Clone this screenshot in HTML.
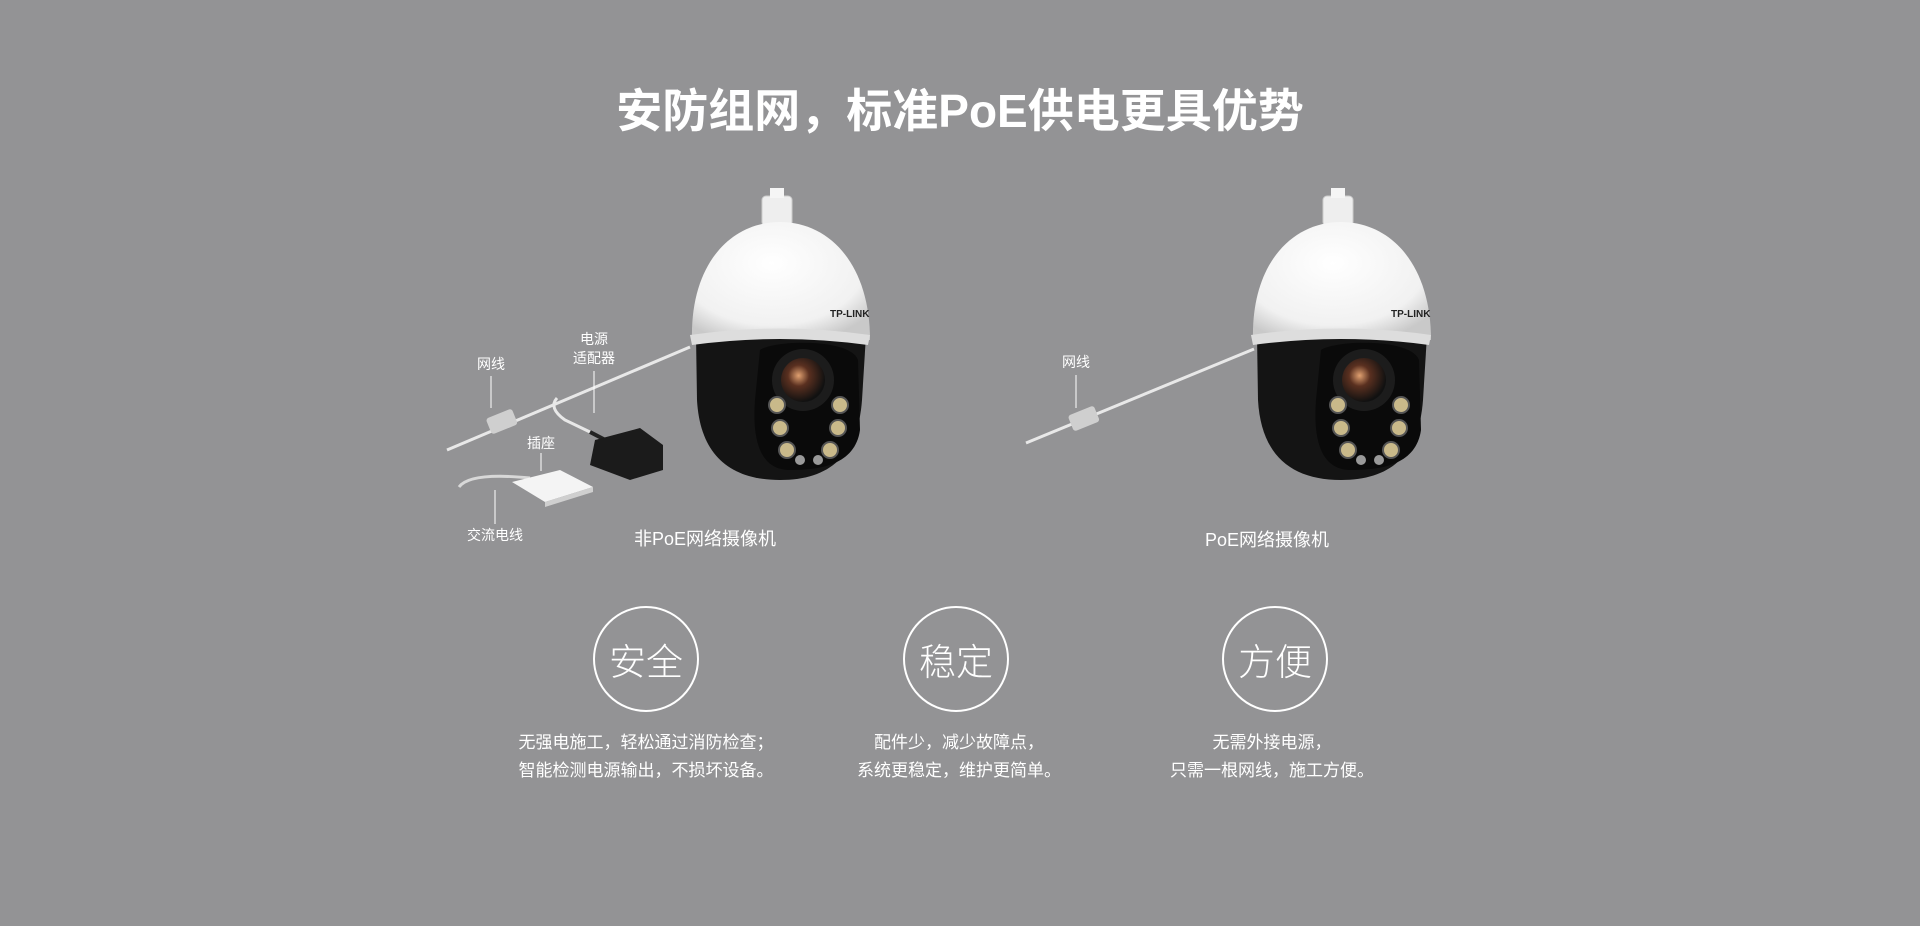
<!DOCTYPE html>
<html><head><meta charset="utf-8"><style>
html,body{margin:0;padding:0;}
body{width:1920px;height:926px;background:#939395;position:relative;overflow:hidden;font-family:"Liberation Sans","Noto Sans CJK SC",sans-serif;color:#fff;}
.t{position:absolute;white-space:nowrap;transform:translate(-50%,-50%);}
.c{position:absolute;width:106px;height:106px;border:2px solid #fff;border-radius:50%;box-sizing:border-box;transform:translate(-50%,-50%);display:flex;align-items:center;justify-content:center;font-size:37px;font-weight:300;}
</style></head><body>
<svg width="1920" height="926" style="position:absolute;left:0;top:0">
<defs>
<radialGradient id="dome" cx="0.45" cy="0.35" r="0.7"><stop offset="0" stop-color="#ffffff"/><stop offset="0.75" stop-color="#f1f1f1"/><stop offset="1" stop-color="#c9c9c9"/></radialGradient>
<radialGradient id="lens" cx="0.4" cy="0.4" r="0.6"><stop offset="0" stop-color="#e0a070"/><stop offset="0.4" stop-color="#5a3020"/><stop offset="1" stop-color="#111"/></radialGradient>
<g id="cam">
<rect x="762" y="196" width="30" height="30" rx="4" fill="#eee" stroke="#ccc"/>
<rect x="770" y="188" width="14" height="10" fill="#f5f5f5"/>
<path d="M692,340 C690,265 730,222 780,222 C830,222 870,265 870,340 Z" fill="url(#dome)"/>
<path d="M696,335 L866,335 L862,400 C858,455 830,480 780,480 C730,480 700,455 697,400 Z" fill="#141414"/>
<path d="M760,350 C775,340 850,338 858,360 L860,430 C855,465 820,470 790,470 C760,470 752,440 755,400 Z" fill="#0a0a0a"/>
<path d="M690,335 Q780,322 870,335 L868,345 Q780,333 692,345 Z" fill="#ddd"/>
<circle cx="803" cy="380" r="31" fill="#1c1c1c"/>
<circle cx="803" cy="380" r="22" fill="url(#lens)"/>
<g fill="#c9b98a" stroke="#555" stroke-width="2">
<circle cx="777" cy="405" r="8"/><circle cx="780" cy="428" r="8"/><circle cx="787" cy="450" r="8"/>
<circle cx="840" cy="405" r="8"/><circle cx="838" cy="428" r="8"/><circle cx="830" cy="450" r="8"/>
</g>
<circle cx="800" cy="460" r="5" fill="#999"/><circle cx="818" cy="460" r="5" fill="#999"/>
<text x="830" y="317" font-size="10" font-weight="bold" fill="#222" font-family="Liberation Sans">TP-LINK</text>
</g>
</defs>
<use href="#cam"/>
<use href="#cam" transform="translate(561,0)"/>
<!-- left cables -->
<line x1="447" y1="450" x2="690" y2="347" stroke="#e8e8e8" stroke-width="3"/>
<path d="M557,398 Q548,408 565,420 L590,432" stroke="#e8e8e8" stroke-width="3" fill="none"/>
<rect x="488" y="413" width="28" height="17" rx="3" fill="#cfcfcf" transform="rotate(-22 502 422)"/>
<path d="M590,432 L615,445" stroke="#222" stroke-width="4"/>
<path d="M595,440 L640,428 L663,445 L663,470 L630,480 L590,465 Z" fill="#1b1b1b"/>
<path d="M459,487 Q470,472 530,478" stroke="#d8d8d8" stroke-width="3" fill="none"/>
<path d="M512,482 L560,470 L593,487 L545,502 Z" fill="#f4f4f4"/>
<path d="M545,502 L593,487 L593,492 L545,507 Z" fill="#cfcfcf"/>
<!-- right cables -->
<line x1="1026" y1="443" x2="1254" y2="349" stroke="#e8e8e8" stroke-width="3"/>
<rect x="1070" y="410" width="28" height="17" rx="3" fill="#cfcfcf" transform="rotate(-22 1084 419)"/>
<!-- leaders -->
<g stroke="#fff" stroke-width="1">
<line x1="491" y1="376" x2="491" y2="408"/>
<line x1="594" y1="371" x2="594" y2="413"/>
<line x1="541" y1="453" x2="541" y2="471"/>
<line x1="495" y1="490" x2="495" y2="524"/>
<line x1="1076" y1="375" x2="1076" y2="408"/>
</g>
</svg>
<div class="t" style="left:960px;top:108px;font-size:46px;font-weight:bold;">安防组网，标准PoE供电更具优势</div>
<div class="t" style="left:491px;top:364px;font-size:14px;">网线</div>
<div class="t" style="left:594px;top:349px;font-size:14px;line-height:19px;text-align:center;">电源<br>适配器</div>
<div class="t" style="left:541px;top:443px;font-size:14px;">插座</div>
<div class="t" style="left:495px;top:535px;font-size:14px;">交流电线</div>
<div class="t" style="left:705px;top:538px;font-size:18px;">非PoE网络摄像机</div>
<div class="t" style="left:1076px;top:362px;font-size:14px;">网线</div>
<div class="t" style="left:1267px;top:539px;font-size:18px;">PoE网络摄像机</div>
<div class="c" style="left:646px;top:659px;">安全</div>
<div class="c" style="left:956px;top:659px;">稳定</div>
<div class="c" style="left:1275px;top:659px;">方便</div>
<div class="t" style="left:646px;top:757px;font-size:17px;line-height:28px;text-align:center;">无强电施工，轻松通过消防检查；<br>智能检测电源输出，不损坏设备。</div>
<div class="t" style="left:959px;top:757px;font-size:17px;line-height:28px;text-align:center;">配件少，减少故障点，<br>系统更稳定，维护更简单。</div>
<div class="t" style="left:1272px;top:757px;font-size:17px;line-height:28px;text-align:center;">无需外接电源，<br>只需一根网线，施工方便。</div>
</body></html>
